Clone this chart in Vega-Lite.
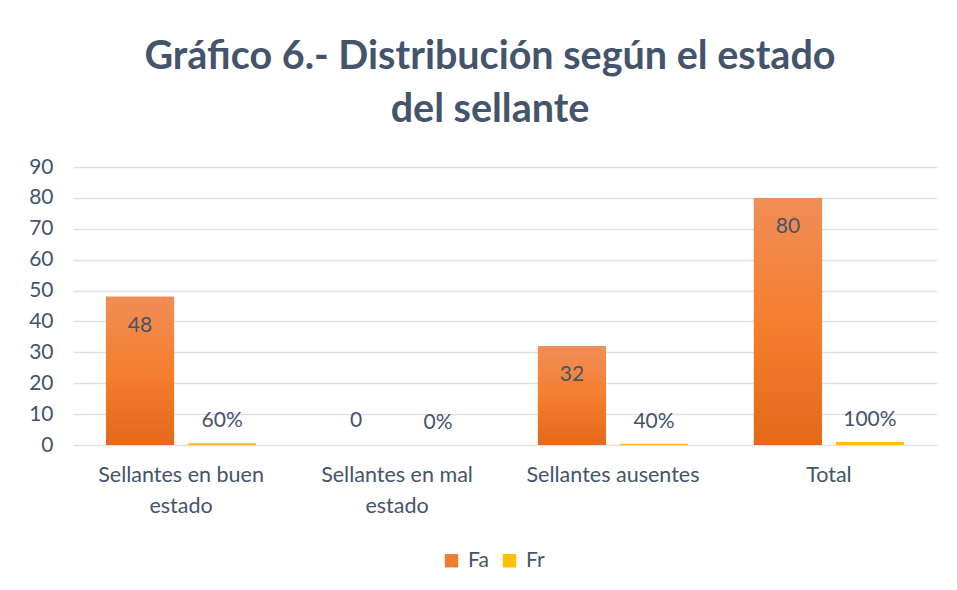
{
  "$schema": "https://vega.github.io/schema/vega-lite/v6.json",
  "width": 864,
  "height": 278,
  "autosize": {"type": "none"},
  "padding": {"left": 73, "top": 167, "right": 20, "bottom": 145},
  "background": "white",
  "title": {
    "text": ["Gráfico 6.- Distribución según el estado", "del sellante"],
    "font": "Lato",
    "fontSize": 39.5,
    "fontWeight": "bold",
    "color": "#44546A",
    "anchor": "middle",
    "lineHeight": 53,
    "offset": 26,
    "dx": -15
  },
  "config": {
    "view": {"stroke": null},
    "font": "Lato"
  },
  "data": {
    "values": [
      {"categoria": "Sellantes en buen estado", "serie": "Fa", "valor": 48},
      {"categoria": "Sellantes en buen estado", "serie": "Fr", "valor": 0.6},
      {"categoria": "Sellantes en mal estado", "serie": "Fa", "valor": 0},
      {"categoria": "Sellantes en mal estado", "serie": "Fr", "valor": 0},
      {"categoria": "Sellantes ausentes", "serie": "Fa", "valor": 32},
      {"categoria": "Sellantes ausentes", "serie": "Fr", "valor": 0.4},
      {"categoria": "Total", "serie": "Fa", "valor": 80},
      {"categoria": "Total", "serie": "Fr", "valor": 1}
    ]
  },
  "encoding": {
    "x": {
      "field": "categoria",
      "type": "nominal",
      "sort": ["Sellantes en buen estado", "Sellantes en mal estado", "Sellantes ausentes", "Total"],
      "scale": {"paddingInner": 0.305, "paddingOuter": 0.153},
      "axis": {
        "title": null,
        "labelAngle": 0,
        "domain": false,
        "ticks": false,
        "labelFont": "Lato",
        "labelFontSize": 21.5,
        "labelColor": "#44546A",
        "labelPadding": 19,
        "labelLineHeight": 31,
        "labelExpr": "datum.value == 'Sellantes en buen estado' ? ['Sellantes en buen', 'estado'] : datum.value == 'Sellantes en mal estado' ? ['Sellantes en mal', 'estado'] : datum.value"
      }
    },
    "xOffset": {
      "field": "serie",
      "type": "nominal",
      "sort": ["Fa", "Fr"],
      "scale": {"paddingInner": 0.171}
    },
    "y": {
      "field": "valor",
      "type": "quantitative",
      "scale": {"domain": [0, 90], "nice": false},
      "axis": {
        "title": null,
        "values": [0, 10, 20, 30, 40, 50, 60, 70, 80, 90],
        "grid": true,
        "gridColor": "#DCE1E8",
        "gridWidth": 1.5,
        "domain": false,
        "ticks": false,
        "labelFont": "Lato",
        "labelFontSize": 21,
        "labelColor": "#44546A",
        "labelPadding": 20
      }
    }
  },
  "layer": [
    {
      "mark": {"type": "bar"},
      "encoding": {
        "color": {
          "field": "serie",
          "type": "nominal",
          "scale": {"domain": ["Fa", "Fr"], "range": ["#EE7D31", "#FFC000"]},
          "legend": {
            "orient": "none",
            "legendX": 368,
            "legendY": 383,
            "direction": "horizontal",
            "title": null,
            "symbolType": "square",
            "symbolSize": 180,
            "symbolStrokeWidth": 0,
            "labelFont": "Lato",
            "labelFontSize": 21,
            "labelColor": "#44546A",
            "columnPadding": 10,
            "labelOffset": 6
          }
        }
      }
    },
    {
      "transform": [{"filter": "datum.serie == 'Fa'"}],
      "mark": {
        "type": "bar",
        "color": {
          "gradient": "linear",
          "x1": 0, "y1": 0, "x2": 0, "y2": 1,
          "stops": [
            {"offset": 0, "color": "#F18D57"},
            {"offset": 0.5, "color": "#F47F2E"},
            {"offset": 1, "color": "#E4691A"}
          ]
        }
      }
    },
    {
      "transform": [{"filter": "datum.serie == 'Fa' && datum.valor > 0"}],
      "mark": {"type": "text", "baseline": "middle", "dy": 29, "fontSize": 21, "font": "Lato", "color": "#44546A"},
      "encoding": {"text": {"field": "valor", "type": "quantitative", "format": "d"}}
    },
    {
      "transform": [{"filter": "datum.serie == 'Fa' && datum.valor == 0"}],
      "mark": {"type": "text", "baseline": "middle", "dy": -24, "fontSize": 21, "font": "Lato", "color": "#44546A"},
      "encoding": {"text": {"field": "valor", "type": "quantitative", "format": "d"}}
    },
    {
      "transform": [{"filter": "datum.serie == 'Fr'"}],
      "mark": {"type": "text", "baseline": "middle", "dy": -22, "fontSize": 21, "font": "Lato", "color": "#44546A"},
      "encoding": {"text": {"field": "valor", "type": "quantitative", "format": ".0%"}}
    }
  ]
}
